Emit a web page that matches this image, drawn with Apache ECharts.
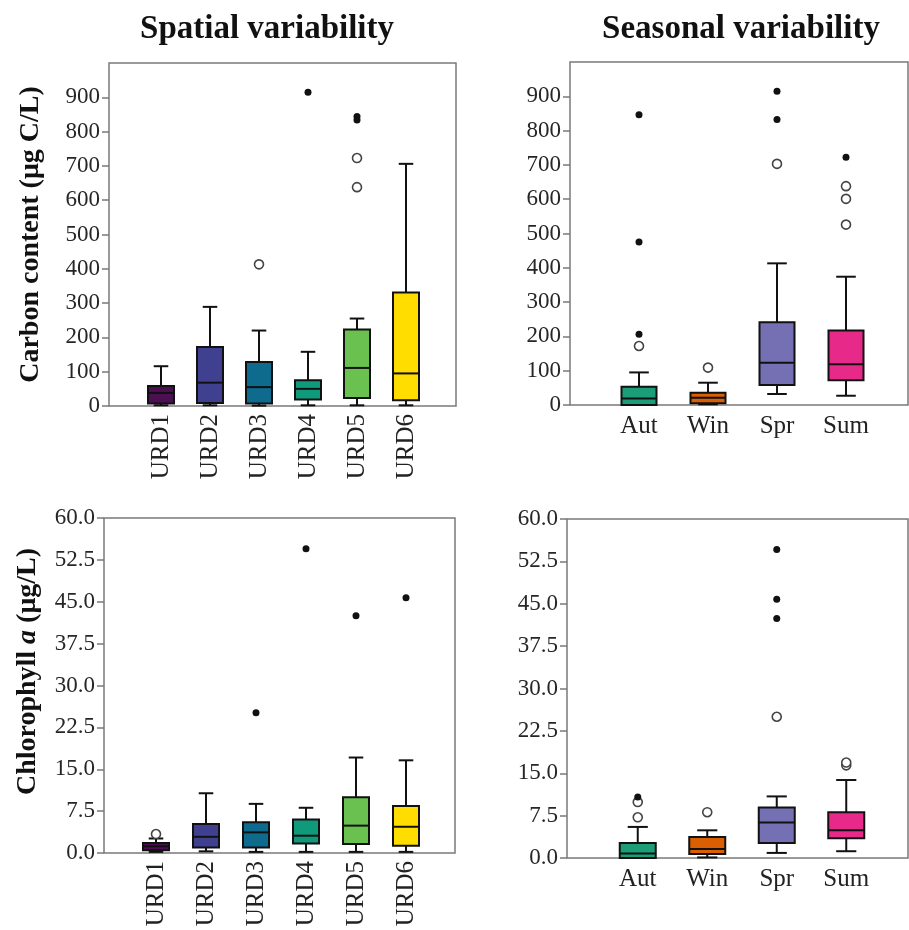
<!DOCTYPE html>
<html>
<head>
<meta charset="utf-8">
<script src="https://cdn.jsdelivr.net/npm/echarts@6/dist/echarts.min.js"></script>
<style>
  html, body { margin: 0; padding: 0; background: #fff; }
  #main { width: 909px; height: 930px; }
</style>
</head>
<body>
<div id="main"></div>
<script>
// categories
var siteCats = ['URD1', 'URD2', 'URD3', 'URD4', 'URD5', 'URD6'];
var seasonCats = ['Aut', 'Win', 'Spr', 'Sum'];
var siteColors = ['#4b0f52', '#3f4190', '#0f6b8e', '#109a7c', '#6ac150', '#ffdd00'];
var seasonColors = ['#1b9e77', '#d95f02', '#7570b3', '#e7298a'];

// tick labels
var carbonTicks = [0, 100, 200, 300, 400, 500, 600, 700, 800, 900];
var chlTicks = [0, 7.5, 15, 22.5, 30, 37.5, 45, 52.5, 60];

// boxes: [min, Q1, median, Q3, max]
var carbonSiteBox = [
  [2, 7, 38, 58, 116],
  [2, 9, 68, 172, 289],
  [1, 7, 55, 128, 220],
  [2, 19, 50, 75, 158],
  [2, 23, 111, 223, 255],
  [2, 17, 95, 331, 706]
];
var carbonSiteOpen = [['URD3', 413], ['URD5', 723], ['URD5', 638]];
var carbonSiteFilled = [['URD4', 915], ['URD5', 844], ['URD5', 834]];

var carbonSeasonBox = [
  [0, 0, 19, 53, 95],
  [2, 5, 21, 36, 65],
  [32, 58, 123, 241, 413],
  [27, 72, 119, 217, 374]
];
var carbonSeasonOpen = [['Aut', 172], ['Win', 109], ['Spr', 703], ['Sum', 638], ['Sum', 601], ['Sum', 526]];
var carbonSeasonFilled = [['Aut', 846], ['Aut', 475], ['Aut', 206], ['Spr', 915], ['Spr', 832], ['Sum', 722]];

var chlSiteBox = [
  [0.2, 0.5, 1.2, 1.8, 2.6],
  [0.3, 1.0, 2.9, 5.2, 10.7],
  [0.2, 1.0, 3.7, 5.5, 8.8],
  [0.2, 1.7, 3.1, 6.0, 8.1],
  [0.2, 1.6, 4.9, 10.0, 17.1],
  [0.2, 1.3, 4.7, 8.4, 16.6]
];
var chlSiteOpen = [['URD1', 3.4]];
var chlSiteFilled = [['URD3', 25.1], ['URD4', 54.5], ['URD5', 42.5], ['URD6', 45.7]];

var chlSeasonBox = [
  [0, 0, 0.8, 2.65, 5.5],
  [0.1, 0.7, 1.6, 3.7, 4.9],
  [0.9, 2.65, 6.3, 8.95, 10.9],
  [1.2, 3.5, 4.9, 8.1, 13.8]
];
var chlSeasonOpen = [['Aut', 7.2], ['Aut', 9.9], ['Win', 8.1], ['Spr', 25.0], ['Sum', 16.4], ['Sum', 16.9]];
var chlSeasonFilled = [['Aut', 10.8], ['Spr', 54.6], ['Spr', 45.8], ['Spr', 42.4]];

var serif = '"Liberation Serif", "DejaVu Serif", serif';

var panels = [
  { frame: [109, 63, 347, 343], inner: [136.5, 294], cats: siteCats, colors: siteColors, box: carbonSiteBox,
    open: carbonSiteOpen, filled: carbonSiteFilled, ticks: carbonTicks, max: 1000, boxW: 26, rotate: 90,
    name: 'Carbon content (μg C/L)', nameGap: 64, namePad: [0, 0, 0, 0], dec: 0 },
  { frame: [570, 62, 338, 343], inner: [604.5, 276], cats: seasonCats, colors: seasonColors, box: carbonSeasonBox,
    open: carbonSeasonOpen, filled: carbonSeasonFilled, ticks: carbonTicks, max: 1000, boxW: 35, rotate: 0,
    name: '', dec: 0 },
  { frame: [104, 518, 351, 335], inner: [131, 300], cats: siteCats, colors: siteColors, box: chlSiteBox,
    open: chlSiteOpen, filled: chlSiteFilled, ticks: chlTicks, max: 60, boxW: 26, rotate: 90,
    name: '{b|Chlorophyll }{i|a}{b| (μg/L)}', nameGap: 62, namePad: [0, 0, 0, 28], dec: 1 },
  { frame: [567, 519, 341, 339], inner: [603, 278], cats: seasonCats, colors: seasonColors, box: chlSeasonBox,
    open: chlSeasonOpen, filled: chlSeasonFilled, ticks: chlTicks, max: 60, boxW: 36, rotate: 0,
    name: '', dec: 1 }
];

// box + whiskers, caps narrower than the box like SPSS draws them
function boxRenderer(colors, boxW) {
  return function (params, api) {
    var k = api.value(0);
    var lo = api.coord([k, api.value(1)]);
    var q1 = api.coord([k, api.value(2)]);
    var med = api.coord([k, api.value(3)]);
    var q3 = api.coord([k, api.value(4)]);
    var hi = api.coord([k, api.value(5)]);
    var cx = lo[0], hw = boxW / 2, cw = boxW * 0.28;
    var ln = { stroke: '#111', lineWidth: 2 };
    return {
      type: 'group',
      children: [
        { type: 'line', shape: { x1: cx, y1: hi[1], x2: cx, y2: q3[1] }, style: ln },
        { type: 'line', shape: { x1: cx, y1: lo[1], x2: cx, y2: q1[1] }, style: ln },
        { type: 'line', shape: { x1: cx - cw, y1: hi[1], x2: cx + cw, y2: hi[1] }, style: ln },
        { type: 'line', shape: { x1: cx - cw, y1: lo[1], x2: cx + cw, y2: lo[1] }, style: ln },
        { type: 'rect', shape: { x: cx - hw, y: q3[1], width: boxW, height: q1[1] - q3[1] },
          style: { fill: colors[k], stroke: '#111', lineWidth: 2 } },
        { type: 'line', shape: { x1: cx - hw, y1: med[1], x2: cx + hw, y2: med[1] }, style: ln }
      ]
    };
  };
}

var grids = [], xAxes = [], yAxes = [], series = [];

panels.forEach(function (p, i) {
  // outer frame
  grids.push({ left: p.frame[0], top: p.frame[1], width: p.frame[2], height: p.frame[3],
    show: true, borderColor: '#7a7a7a', borderWidth: 1.5, backgroundColor: 'transparent' });
  // plotting area for the boxes
  grids.push({ left: p.inner[0], top: p.frame[1], width: p.inner[1], height: p.frame[3] });
  var g = grids.length - 1;

  xAxes.push({
    gridIndex: g, type: 'category', data: p.cats,
    axisLine: { show: false }, axisTick: { show: false },
    axisLabel: { rotate: p.rotate, margin: p.rotate ? 8 : 9, fontFamily: serif, fontSize: 25, color: '#222' }
  });
  yAxes.push({
    gridIndex: g, type: 'value', min: 0, max: p.max,
    offset: p.inner[0] - p.frame[0],
    splitLine: { show: false },
    axisLine: { show: false },
    axisTick: { show: true, inside: false, length: 7, customValues: p.ticks, lineStyle: { color: '#7a7a7a', width: 1.5 } },
    axisLabel: { customValues: p.ticks, margin: 9, fontFamily: serif, fontSize: 23, color: '#262626',
      formatter: function (v) { return v.toFixed(p.dec); } },
    name: p.name, nameLocation: 'middle', nameRotate: 90, nameGap: p.nameGap,
    nameTextStyle: {
      fontFamily: serif, fontSize: 28, fontWeight: 'bold', color: '#111', padding: p.namePad,
      rich: {
        b: { fontFamily: serif, fontSize: 28, fontWeight: 'bold', color: '#111' },
        i: { fontFamily: serif, fontSize: 28, fontWeight: 'bold', fontStyle: 'italic', color: '#111' }
      }
    }
  });

  series.push({
    type: 'custom', xAxisIndex: i, yAxisIndex: i,
    renderItem: boxRenderer(p.colors, p.boxW),
    encode: { x: 0, y: [1, 2, 3, 4, 5] },
    data: p.box.map(function (v, k) { return [k].concat(v); }),
    z: 2
  });
  series.push({
    type: 'scatter', xAxisIndex: i, yAxisIndex: i, symbol: 'circle', symbolSize: 9,
    itemStyle: { color: '#fff', borderColor: '#444', borderWidth: 1.6, opacity: 1 },
    data: p.open, z: 3
  });
  series.push({
    type: 'scatter', xAxisIndex: i, yAxisIndex: i, symbol: 'circle', symbolSize: 7,
    itemStyle: { color: '#111', opacity: 1 },
    data: p.filled, z: 3
  });
});

var chart = echarts.init(document.getElementById('main'));
chart.setOption({
  animation: false,
  backgroundColor: '#fff',
  grid: grids,
  xAxis: xAxes,
  yAxis: yAxes,
  series: series,
  graphic: [
    { type: 'text', x: 267, y: 29, style: { text: 'Spatial variability', align: 'center', verticalAlign: 'middle',
      font: 'bold 33px ' + serif, fill: '#111' } },
    { type: 'text', x: 741, y: 29, style: { text: 'Seasonal variability', align: 'center', verticalAlign: 'middle',
      font: 'bold 33px ' + serif, fill: '#111' } }
  ]
});
</script>
</body>
</html>
